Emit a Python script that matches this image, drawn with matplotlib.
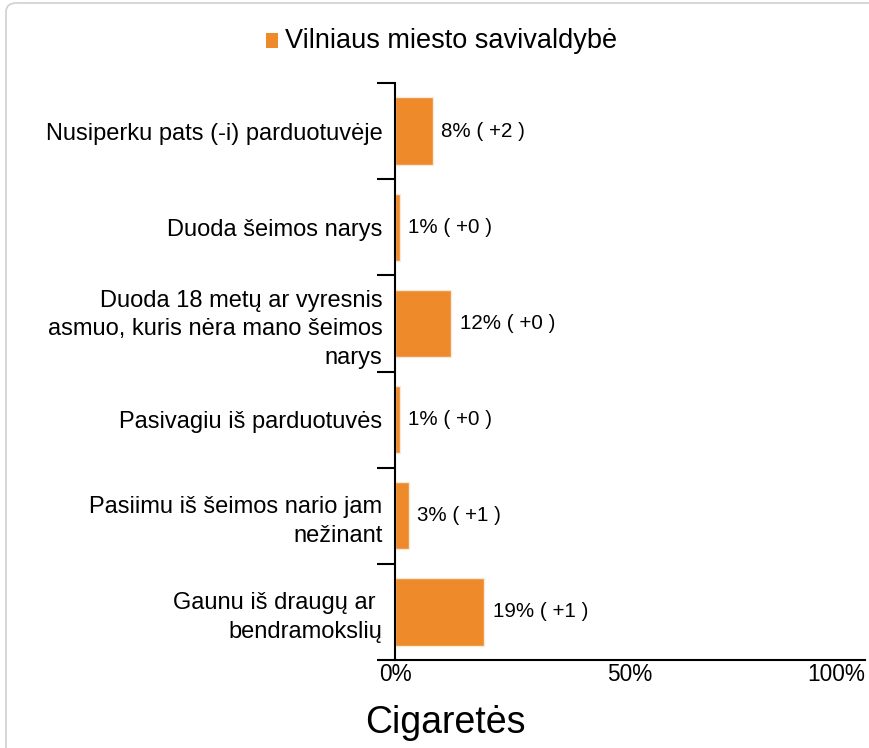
import matplotlib
matplotlib.use("Agg")
import matplotlib.pyplot as plt
from matplotlib.patches import FancyBboxPatch, Rectangle
import numpy as np

plt.rcParams['font.family'] = ['Liberation Sans', 'DejaVu Sans']

# duomenys
categories = [
    "Nusiperku pats (-i) parduotuvėje",
    "Duoda šeimos narys",
    "Duoda 18 metų ar vyresnis\nasmuo, kuris nėra mano šeimos\nnarys",
    "Pasivagiu iš parduotuvės",
    "Pasiimu iš šeimos nario jam\nnežinant",
    "Gaunu iš draugų ar \nbendramokslių",
]
values = [8, 1, 12, 1, 3, 19]
deltas = ["+2", "+0", "+0", "+0", "+1", "+1"]
series_name = "Vilniaus miesto savivaldybė"
title = "Cigaretės"
xticks = [0, 50, 100]
xtick_labels = ["0%", "50%", "100%"]

orange = "#EF8A2A"
W, H = 869, 748

fig = plt.figure(figsize=(W / 100, H / 100), dpi=100)

# rėmelis
frame = FancyBboxPatch((6 / W, -0.2), 1.2, 1.2 - 3 / H,
                       boxstyle="round,pad=0,rounding_size=0.012",
                       transform=fig.transFigure, facecolor="white",
                       edgecolor="#d0d0d0", linewidth=1.2, zorder=-5)
fig.patches.append(frame)

ax = fig.add_axes([395 / W, 1 - 660 / H, (865 - 395) / W, (660 - 83) / H])
ax.patch.set_alpha(0)

y = np.arange(len(categories))
ax.barh(y, values, height=0.7, color=orange, edgecolor="#f7e9dc", linewidth=1)

for yi, v, d in zip(y, values, deltas):
    ax.annotate(f"{v}% ( {d} )", xy=(v, yi), xytext=(6, 0),
                textcoords="offset points", va="center", ha="left", fontsize=14.8)

ax.set_xlim(0, 100)
ax.set_ylim(len(categories) - 0.5, -0.5)

ax.set_yticks(y)
ax.set_yticklabels(categories, fontsize=17, ha="right", multialignment="right",
                   linespacing=1.38)
ax.tick_params(axis="y", which="major", length=0, pad=9)
ax.set_yticks(np.arange(len(categories) + 1) - 0.5, minor=True)
ax.tick_params(axis="y", which="minor", length=13, width=1.5)

ax.set_xticks(xticks)
ax.set_xticklabels(xtick_labels, fontsize=16.3)
ax.tick_params(axis="x", length=0, pad=2)
ax.get_xticklabels()[-1].set_ha("right")

for s in ["top", "right"]:
    ax.spines[s].set_visible(False)
for s in ["left", "bottom"]:
    ax.spines[s].set_linewidth(1.5)

# legenda
fig.patches.append(Rectangle((266 / W, 1 - 48 / H), 12 / W, 15 / H,
                             transform=fig.transFigure, facecolor=orange,
                             edgecolor="none"))
fig.text(285 / W, 1 - 41 / H, series_name, fontsize=19.5, va="center", ha="left")

fig.text(445 / W, 1 - 723 / H, title, fontsize=27, va="center", ha="center")

fig.savefig("out.png", dpi=100)
